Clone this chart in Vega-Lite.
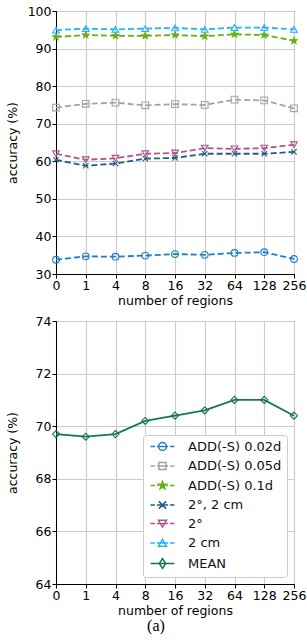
{
  "$schema": "https://vega.github.io/schema/vega-lite/v6.json",
  "padding": {"left": 5, "top": 4, "right": 6, "bottom": 0},
  "spacing": 6,
  "title": {"text": "(a)", "orient": "bottom", "font": "Liberation Serif", "fontSize": 16, "fontWeight": "normal", "anchor": "middle", "offset": 0, "color": "black"},
  "data": {"values": [
    {"r": 0, "s": "ADD(-S) 0.02d", "v": 33.8}, {"r": 1, "s": "ADD(-S) 0.02d", "v": 34.7}, {"r": 4, "s": "ADD(-S) 0.02d", "v": 34.6}, {"r": 8, "s": "ADD(-S) 0.02d", "v": 34.9}, {"r": 16, "s": "ADD(-S) 0.02d", "v": 35.3}, {"r": 32, "s": "ADD(-S) 0.02d", "v": 35.1}, {"r": 64, "s": "ADD(-S) 0.02d", "v": 35.6}, {"r": 128, "s": "ADD(-S) 0.02d", "v": 35.8}, {"r": 256, "s": "ADD(-S) 0.02d", "v": 34.0},
    {"r": 0, "s": "ADD(-S) 0.05d", "v": 74.3}, {"r": 1, "s": "ADD(-S) 0.05d", "v": 75.3}, {"r": 4, "s": "ADD(-S) 0.05d", "v": 75.6}, {"r": 8, "s": "ADD(-S) 0.05d", "v": 74.9}, {"r": 16, "s": "ADD(-S) 0.05d", "v": 75.2}, {"r": 32, "s": "ADD(-S) 0.05d", "v": 75.0}, {"r": 64, "s": "ADD(-S) 0.05d", "v": 76.4}, {"r": 128, "s": "ADD(-S) 0.05d", "v": 76.2}, {"r": 256, "s": "ADD(-S) 0.05d", "v": 74.1},
    {"r": 0, "s": "ADD(-S) 0.1d", "v": 93.1}, {"r": 1, "s": "ADD(-S) 0.1d", "v": 93.6}, {"r": 4, "s": "ADD(-S) 0.1d", "v": 93.4}, {"r": 8, "s": "ADD(-S) 0.1d", "v": 93.4}, {"r": 16, "s": "ADD(-S) 0.1d", "v": 93.6}, {"r": 32, "s": "ADD(-S) 0.1d", "v": 93.3}, {"r": 64, "s": "ADD(-S) 0.1d", "v": 93.8}, {"r": 128, "s": "ADD(-S) 0.1d", "v": 93.6}, {"r": 256, "s": "ADD(-S) 0.1d", "v": 92.1},
    {"r": 0, "s": "2°, 2 cm", "v": 60.4}, {"r": 1, "s": "2°, 2 cm", "v": 58.8}, {"r": 4, "s": "2°, 2 cm", "v": 59.4}, {"r": 8, "s": "2°, 2 cm", "v": 60.7}, {"r": 16, "s": "2°, 2 cm", "v": 60.9}, {"r": 32, "s": "2°, 2 cm", "v": 62.0}, {"r": 64, "s": "2°, 2 cm", "v": 62.0}, {"r": 128, "s": "2°, 2 cm", "v": 62.0}, {"r": 256, "s": "2°, 2 cm", "v": 62.5},
    {"r": 0, "s": "2°", "v": 62.0}, {"r": 1, "s": "2°", "v": 60.4}, {"r": 4, "s": "2°", "v": 60.8}, {"r": 8, "s": "2°", "v": 62.0}, {"r": 16, "s": "2°", "v": 62.2}, {"r": 32, "s": "2°", "v": 63.5}, {"r": 64, "s": "2°", "v": 63.3}, {"r": 128, "s": "2°", "v": 63.5}, {"r": 256, "s": "2°", "v": 64.4},
    {"r": 0, "s": "2 cm", "v": 94.9}, {"r": 1, "s": "2 cm", "v": 95.3}, {"r": 4, "s": "2 cm", "v": 95.1}, {"r": 8, "s": "2 cm", "v": 95.3}, {"r": 16, "s": "2 cm", "v": 95.5}, {"r": 32, "s": "2 cm", "v": 95.1}, {"r": 64, "s": "2 cm", "v": 95.6}, {"r": 128, "s": "2 cm", "v": 95.6}, {"r": 256, "s": "2 cm", "v": 95.1},
    {"r": 0, "s": "MEAN", "v": 69.7}, {"r": 1, "s": "MEAN", "v": 69.6}, {"r": 4, "s": "MEAN", "v": 69.7}, {"r": 8, "s": "MEAN", "v": 70.2}, {"r": 16, "s": "MEAN", "v": 70.4}, {"r": 32, "s": "MEAN", "v": 70.6}, {"r": 64, "s": "MEAN", "v": 71.0}, {"r": 128, "s": "MEAN", "v": 71.0}, {"r": 256, "s": "MEAN", "v": 70.4}
  ]},
  "resolve": {
    "scale": {"shape": "independent", "color": "independent", "fill": "independent"},
    "legend": {"shape": "independent", "color": "independent", "fill": "independent"}
  },
  "vconcat": [
    {
      "width": 238,
      "height": 263,
      "transform": [{"filter": "datum.s !== 'MEAN'"}],
      "encoding": {
        "x": {"field": "r", "type": "ordinal", "scale": {"type": "point", "padding": 0}, "axis": {"title": "number of regions", "labelAngle": 0, "grid": true, "titlePadding": 3}},
        "y": {"field": "v", "type": "quantitative", "scale": {"domain": [30, 100], "nice": false, "zero": false}, "axis": {"title": "accuracy (%)", "values": [30, 40, 50, 60, 70, 80, 90, 100], "titleX": -37, "grid": true}},
        "color": {"field": "s", "type": "nominal", "scale": {"domain": ["ADD(-S) 0.02d", "ADD(-S) 0.05d", "ADD(-S) 0.1d", "2°, 2 cm", "2°", "2 cm", "MEAN"], "range": ["#1f7fc7", "#a3a3a3", "#64b30b", "#205e8a", "#b1558a", "#20b4ff", "#127a4a"]}, "legend": null}
      },
      "layer": [
        {"mark": {"type": "line", "strokeDash": [6, 3], "strokeWidth": 1.8}},
        {"mark": {"type": "point", "size": 45, "strokeWidth": 1.1, "opacity": 1},
         "encoding": {
           "shape": {"field": "s", "type": "nominal", "scale": {"domain": ["ADD(-S) 0.02d", "ADD(-S) 0.05d", "ADD(-S) 0.1d", "2°, 2 cm", "2°", "2 cm", "MEAN"], "range": ["circle", "square", "M0,-1L0.235,-0.324L0.951,-0.309L0.38,0.124L0.588,0.809L0,0.4L-0.588,0.809L-0.38,0.124L-0.951,-0.309L-0.235,-0.324Z", "M-0.8,-0.8L0.8,0.8M-0.8,0.8L0.8,-0.8", "triangle-down", "triangle-up", "diamond"]}, "legend": null},
           "fill": {"field": "s", "type": "nominal", "scale": {"domain": ["ADD(-S) 0.02d", "ADD(-S) 0.05d", "ADD(-S) 0.1d", "2°, 2 cm", "2°", "2 cm", "MEAN"], "range": ["transparent", "transparent", "#64b30b", "transparent", "transparent", "transparent", "transparent"]}, "legend": null}
         }}
      ]
    },
    {
      "width": 238,
      "height": 263,
      "encoding": {
        "x": {"field": "r", "type": "ordinal", "scale": {"type": "point", "padding": 0}, "axis": {"title": "number of regions", "labelAngle": 0, "grid": true, "titlePadding": 3}},
        "y": {"field": "v", "type": "quantitative", "scale": {"domain": [64, 74], "nice": false, "zero": false}, "axis": {"title": "accuracy (%)", "values": [64, 66, 68, 70, 72, 74], "titleX": -37, "grid": true}},
        "color": {"field": "s", "type": "nominal", "scale": {"domain": ["ADD(-S) 0.02d", "ADD(-S) 0.05d", "ADD(-S) 0.1d", "2°, 2 cm", "2°", "2 cm", "MEAN"], "range": ["#1f7fc7", "#a3a3a3", "#64b30b", "#205e8a", "#b1558a", "#20b4ff", "#127a4a"]}, "legend": {"title": null}}
      },
      "layer": [
        {"transform": [{"filter": "datum.s === 'MEAN'"}], "mark": {"type": "line", "strokeWidth": 1.8}},
        {"transform": [{"filter": "datum.s === 'MEAN'"}], "mark": {"type": "point", "shape": "diamond", "size": 50, "strokeWidth": 1.1, "opacity": 1}},
        {"mark": {"type": "point", "opacity": 0, "size": 64, "strokeWidth": 1.5, "clip": true},
         "encoding": {
           "shape": {"field": "s", "type": "nominal", "scale": {"domain": ["ADD(-S) 0.02d", "ADD(-S) 0.05d", "ADD(-S) 0.1d", "2°, 2 cm", "2°", "2 cm", "MEAN"], "range": [
             "M-1,0H0.1M0.6,0H3.4M3.9,0H5M3,0A1,1 0 1,1 1,0A1,1 0 1,1 3,0Z",
             "M-1,0H0.1M0.6,0H3.4M3.9,0H5M1.1,-0.9H2.9V0.9H1.1Z",
             "M-1,0H0.1M0.6,0H1M3,0H3.4M3.9,0H5M2,-1L2.235,-0.324L2.951,-0.309L2.38,0.124L2.588,0.809L2,0.4L1.412,0.809L1.62,0.124L1.049,-0.309L1.765,-0.324Z",
             "M-1,0H0.1M0.6,0H3.4M3.9,0H5M1.1,-0.9L2.9,0.9M1.1,0.9L2.9,-0.9",
             "M-1,0H0.1M0.6,0H3.4M3.9,0H5M1,-0.8H3L2,0.9Z",
             "M-1,0H0.1M0.6,0H3.4M3.9,0H5M1,0.8H3L2,-0.9Z",
             "M-1,0H5M2,-1.2L2.8,0L2,1.2L1.2,0Z"
           ]}, "legend": {"title": null}},
           "fill": {"field": "s", "type": "nominal", "scale": {"domain": ["ADD(-S) 0.02d", "ADD(-S) 0.05d", "ADD(-S) 0.1d", "2°, 2 cm", "2°", "2 cm", "MEAN"], "range": ["transparent", "transparent", "#64b30b", "transparent", "transparent", "transparent", "transparent"]}, "legend": {"title": null}}
         }}
      ]
    }
  ],
  "config": {
    "font": "DejaVu Sans",
    "view": {"stroke": "black", "strokeWidth": 1},
    "axis": {"labelFontSize": 12.5, "titleFontSize": 12.5, "titleFontWeight": "normal", "labelColor": "black", "titleColor": "black", "domainColor": "black", "tickColor": "black", "gridColor": "#cccccc", "gridWidth": 1.2, "tickSize": 4, "labelPadding": 1},
    "legend": {"orient": "bottom-right", "offset": 7, "strokeColor": "#cccccc", "fillColor": "white", "padding": 5, "cornerRadius": 3, "labelFontSize": 13, "labelColor": "#111111", "rowPadding": 4.5, "symbolSize": 64, "symbolStrokeWidth": 1.5, "labelOffset": 27, "symbolOpacity": 1}
  }
}
